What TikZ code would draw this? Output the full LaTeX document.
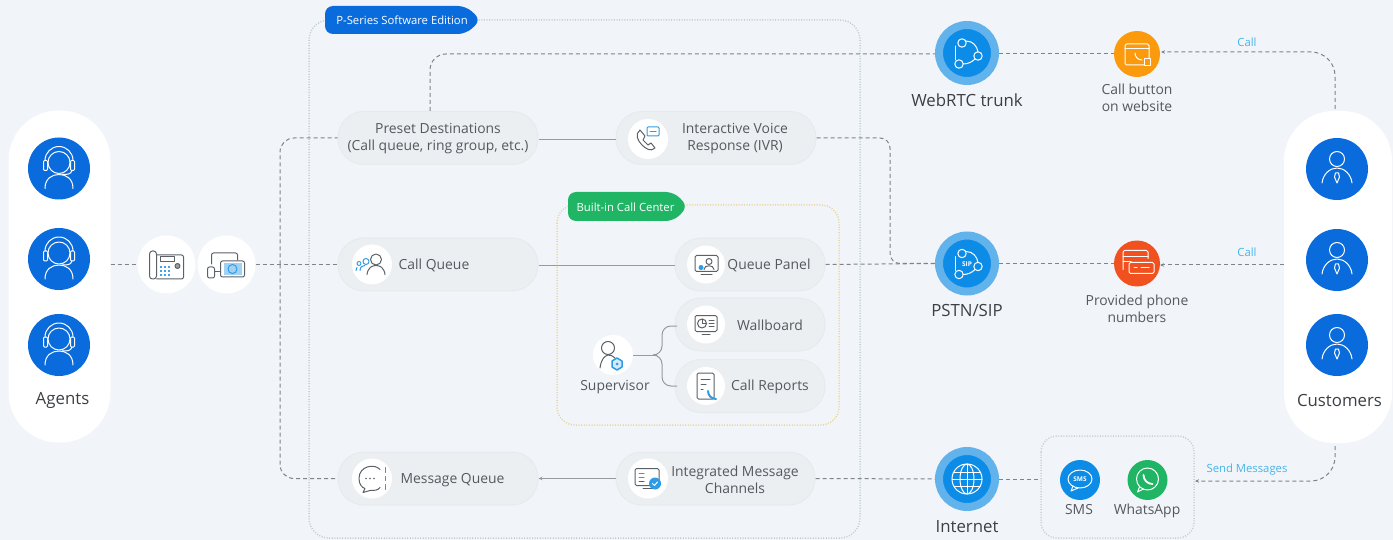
\documentclass[tikz,border=0pt]{standalone}
\usepackage{fontspec}
\setmainfont{Open Sans}
\usetikzlibrary{arrows.meta,calc}
\definecolor{bgc}{HTML}{F1F5F9}
\definecolor{bluec}{HTML}{0A6CDC}
\definecolor{midblue}{HTML}{0C8CE6}
\definecolor{ringblue}{HTML}{62B2EC}
\definecolor{pillc}{HTML}{ECEFF2}
\definecolor{pilledge}{HTML}{E7EBEE}
\definecolor{linec}{HTML}{7F8489}
\definecolor{solidcol}{HTML}{969BA0}
\definecolor{dotc}{HTML}{BFD0CA}
\definecolor{dotorange}{HTML}{EBD49A}
\definecolor{dotgray}{HTML}{C8CED3}
\definecolor{txtc}{HTML}{55595E}
\definecolor{darktxt}{HTML}{3C4046}
\definecolor{labelc}{HTML}{45B4EA}
\definecolor{greenc}{HTML}{20B565}
\definecolor{orangec}{HTML}{FB9A0C}
\definecolor{redc}{HTML}{F0511E}
\definecolor{iconc}{HTML}{5C6167}
\definecolor{iconblue}{HTML}{2E9BE6}
\tikzset{
  capsule/.style={fill=white,draw=none,minimum width=#1,minimum height=332pt,rounded corners=50pt,inner sep=0pt},
  pill/.style={fill=pillc,draw=pilledge,line width=1pt,minimum height=53pt,minimum width=#1,rounded corners=26pt,inner sep=0pt},
  whitedot/.style={circle,fill=white,draw=none,minimum size=#1,inner sep=0pt},
  person/.style={circle,fill=bluec,minimum size=62pt,inner sep=0pt},
  ringc/.style={circle,fill=midblue,draw=ringblue,line width=8pt,minimum size=56pt,inner sep=0pt},
  smallc/.style={circle,fill=#1,minimum size=46pt,inner sep=0pt},
  appc/.style={circle,fill=#1,minimum size=40pt,inner sep=0pt},
  txt/.style={text=txtc,font=\fontsize{13.9}{17}\selectfont,align=center,inner sep=0pt},
  bigtxt/.style={text=darktxt,font=\fontsize{16.8}{20}\selectfont,align=center,inner sep=0pt},
  lab/.style={text=labelc,font=\fontsize{11.3}{13}\selectfont,inner sep=0pt},
  tagtxt/.style={text=white,font=\fontsize{11.3}{13}\selectfont,inner sep=0pt},
  dashc/.style={draw=linec,line width=1pt,dash pattern=on 4pt off 3pt},
  solidc/.style={draw=solidcol,line width=1pt},
  tipc/.style={-{Stealth[length=4pt,width=3.5pt]}},
  dotframe/.style={draw=#1,line width=1.5pt,dash pattern=on 1pt off 1.6pt},
  ico/.style={draw=iconc,line width=1pt,line cap=round,line join=round},
  wico/.style={draw=white,line width=1pt,line cap=round,line join=round},
  pics/agent/.style={code={\begin{scope}[y=1pt,wico]
    \draw (0,6) circle (11);
    \draw (-14,8) arc (180:0:14);
    \draw[rounded corners=1pt] (-15.5,-2) rectangle (-11.5,8);
    \draw[rounded corners=1pt] (11.5,-2) rectangle (15.5,8);
    \draw (13,-2) .. controls (12,-6) and (8,-6) .. (3,-6);
    \draw (-14,-20) .. controls (-14,-10) and (-7,-6) .. (0,-6) .. controls (7,-6) and (14,-10) .. (14,-20);
  \end{scope}}},
  pics/cust/.style={code={\begin{scope}[y=1pt,wico]
    \draw (0,10) circle (7.5);
    \draw (-15,-14) .. controls (-14,-5) and (-7,1) .. (0,1) .. controls (7,1) and (14,-5) .. (15,-14);
    \draw (-1.5,-4) -- (1.5,-4) -- (2.5,-8) -- (0,-14) -- (-2.5,-8) -- cycle;
  \end{scope}}},
  pics/net/.style={code={\begin{scope}[y=1pt,wico]
    \draw (-5,10) circle (4.2);
    \draw (-8,-11) circle (4.2);
    \draw (11,-3) circle (4.2);
    \draw (-1,12) .. controls (6,12) and (10,7) .. (11,1);
    \draw (-12,7) -- (-12,-7);
    \draw (-4,-11) .. controls (1,-11) and (5,-9) .. (8,-6);
  \end{scope}}},
  pics/globe/.style={code={\begin{scope}[y=1pt,wico]
    \draw (0,0) circle (15);
    \draw (0,0) ellipse (7 and 15);
    \draw (0,-15) -- (0,15) (-15,0) -- (15,0) (-13,7) -- (13,7) (-13,-7) -- (13,-7);
  \end{scope}}},
  pics/webbtn/.style={code={\begin{scope}[y=1pt,wico]
    \draw[rounded corners=1.5pt] (-12,-11) rectangle (12,10);
    \draw (-12,5) -- (12,5);
    \draw (-2,1) .. controls (-2,-3) and (1,-6) .. (5,-6);
    \draw[fill=orangec] (7,-12) rectangle (13,-5);
  \end{scope}}},
  pics/numbers/.style={code={\begin{scope}[y=1pt,wico]
    \draw[rounded corners=1.5pt] (-14,-6) -- (-14,13) -- (11,13) -- (11,5);
    \draw (-14,7) -- (11,7) (-14,2) -- (-6,2);
    \draw[rounded corners=1.5pt,fill=redc] (-8,-10) rectangle (17,1);
    \draw (-3,-4.5) -- (0,-4.5) (4,-4.5) -- (12,-4.5);
  \end{scope}}},
  pics/deskphone/.style={code={\begin{scope}[y=1pt,ico]
    \draw[rounded corners=3pt] (-17,-14) rectangle (-10,14);
    \draw[rounded corners=2pt] (-10,10) -- (17,10) -- (17,-14) -- (-10,-14);
    \draw (-6,3) rectangle (8,8);
    \foreach \a in {-6,-2,2}{\foreach \b in {-10,-6,-2}{\draw[iconblue,line width=1.2pt] (\a,\b) -- (\a+1,\b);}}
    \draw[fill=iconc!60] (11,-1) circle (2.5);
  \end{scope}}},
  pics/devices/.style={code={\begin{scope}[y=1pt,ico]
    \draw[rounded corners=2pt] (-19,-2) rectangle (-12,-13);
    \draw (-12,-7) -- (-7,-7);
    \draw[rounded corners=2pt] (-15,1) -- (-15,12) -- (11,12) -- (11,5);
    \draw[rounded corners=2pt] (-6,-12) rectangle (18,4);
    \fill[iconblue!45] (-3,-10) rectangle (15,2);
    \draw[iconblue] (6,-4) circle (4.5);
  \end{scope}}},
  pics/ivr/.style={code={\begin{scope}[y=1pt,ico]
    \draw (-8,9) .. controls (-13,5) and (-11,-1) .. (-6,-6) .. controls (-2,-10) and (3,-13) .. (7,-9) -- (3,-4) -- (0,-6) -- (-5,-1) -- (-3,3) -- cycle;
    \draw[iconblue,rounded corners=1pt] (-1,3) rectangle (11,12);
    \draw[iconblue] (2,7.5) -- (8,7.5);
  \end{scope}}},
  pics/cqueue/.style={code={\begin{scope}[y=1pt,ico]
    \draw (4,5) circle (5.5);
    \draw (-5,-10) .. controls (-4,-3) and (0,-1) .. (4,-1) .. controls (8,-1) and (12,-3) .. (13,-10);
    \draw[iconblue] (-6,3) circle (3);
    \draw[iconblue] (-12,-6) .. controls (-12,-2) and (-9,-1) .. (-7,-1);
    \draw[iconblue] (-13,1) circle (2);
    \draw[iconblue] (-16,-6) -- (-15,-3);
  \end{scope}}},
  pics/panel/.style={code={\begin{scope}[y=1pt,ico]
    \draw[rounded corners=1.5pt] (-11,-7) rectangle (12,9);
    \draw (-5,-10) -- (6,-10);
    \draw (3,3) circle (3);
    \draw (-2,-5) .. controls (-2,0) and (8,0) .. (8,-5);
    \fill[iconblue] (-5,-3) circle (2.5);
  \end{scope}}},
  pics/wall/.style={code={\begin{scope}[y=1pt,ico]
    \draw[rounded corners=1.5pt] (-11,-7) rectangle (11,9);
    \draw (-4,-10) -- (4,-10);
    \draw (-4,1) circle (4.5);
    \draw (-4,5.5) -- (-4,1) -- (0.5,1);
    \draw (3,4) -- (8,4) (3,1) -- (8,1) (3,-2) -- (8,-2);
  \end{scope}}},
  pics/report/.style={code={\begin{scope}[y=1pt,ico]
    \draw[rounded corners=1.5pt] (-9,-13) rectangle (8,13);
    \draw (-5,7) -- (4,7) (-5,2) -- (0,2) (-5,-3) -- (-3,-3);
    \draw[iconblue,line width=2pt] (2,-5) .. controls (2,-10) and (6,-13) .. (10,-13);
  \end{scope}}},
  pics/superv/.style={code={\begin{scope}[y=1pt,ico]
    \draw (-5,7) circle (6.5);
    \draw (-13,-13) .. controls (-12,-5) and (-9,-1) .. (-5,0) .. controls (-2,0) and (0,-1) .. (2,-3);
    \draw[iconblue,fill=iconblue!20,line width=1.5pt] (4,-15) -- (9,-12) -- (9,-6) -- (4,-3) -- (-1,-6) -- (-1,-12) -- cycle;
    \fill[iconblue] (4,-9) circle (1.5);
  \end{scope}}},
  pics/msgq/.style={code={\begin{scope}[y=1pt,ico]
    \draw (8,9) .. controls (3,15) and (-13,13) .. (-13,0) .. controls (-13,-6) and (-10,-9) .. (-7,-10) -- (-9,-14) -- (-2,-12) .. controls (2,-12) and (6,-12) .. (8,-9);
    \foreach \a in {-6,-2,2}{\fill[iconc] (\a,0) circle (.8);}
    \draw[iconblue] (13,11) -- (13,6) (13,2) -- (13,-2) (13,-6) -- (13,-11);
  \end{scope}}},
  pics/intmsg/.style={code={\begin{scope}[y=1pt,ico]
    \draw[rounded corners=1.5pt] (-13,-7) rectangle (11,10);
    \draw (-5,-10) -- (5,-10);
    \draw[iconblue] (-9,5) -- (-4,5) (-9,1) -- (-4,1);
    \draw (-9,-3) -- (-4,-3);
    \fill[iconblue] (7,-5) circle (6);
    \draw[white] (4.5,-5) -- (6.5,-7) -- (9.5,-3.5);
  \end{scope}}},
  pics/smsic/.style={code={\begin{scope}[y=1pt,wico]
    \draw (0,1) ellipse (12 and 9);
    \draw (-7,-6) -- (-9,-11) -- (-2,-8);
  \end{scope}}},
  pics/waic/.style={code={\begin{scope}[y=1pt,wico]
    \draw (0,1) circle (11);
    \draw (-8,-7) -- (-10,-12) -- (-4,-9);
    \draw[line width=1.8pt] (-4,5) .. controls (-4,0) and (0,-4) .. (5,-4);
  \end{scope}}},
}
\begin{document}
\begin{tikzpicture}[x=1pt,y=-1pt]
\fill[bgc] (0,0) rectangle (1393,540);
\useasboundingbox (0,0) rectangle (1393,540);

% frames
\draw[dotframe=dotc,rounded corners=20pt] (309,20) rectangle (860,538);
\draw[dotframe=dotorange,rounded corners=18pt] (557,205) rectangle (839,425);
\draw[dotframe=dotgray,rounded corners=16pt] (1041,436) rectangle (1194,538);

% tags
\fill[bluec,rounded corners=8pt] (325,6) -- (466,6) -- (481,20) -- (466,34) -- (325,34) -- cycle;
\node[tagtxt] (ptag) at (402,20.500) {P-Series Software Edition};
\fill[greenc,rounded corners=8pt] (568,192) -- (674,192) -- (688,206.500) -- (674,221) -- (568,221) -- cycle;
\node[tagtxt] (btag) at (625.500,207) {Built-in Call Center};

% capsules
\node[capsule=102pt] (agents) at (59.500,276.500) {};
\node[capsule=108pt] (cust) at (1338,277) {};

% people
\node[person] (a1) at (59,168.500) {};
\node[person] (a2) at (59,259) {};
\node[person] (a3) at (59,345) {};
\pic at (59,168.500) {agent};
\pic at (59,259) {agent};
\pic at (59,345) {agent};
\node[bigtxt] (agentsT) at (62.500,400.500) {Agents};

\node[person] (c1) at (1337,169) {};
\node[person] (c2) at (1337,260) {};
\node[person] (c3) at (1337,345) {};
\pic at (1337,169) {cust};
\pic at (1337,260) {cust};
\pic at (1337,345) {cust};
\node[bigtxt] (custT) at (1339.500,400) {Customers};

% devices
\node[whitedot=58pt] (phone) at (166.500,264.500) {};
\node[whitedot=58pt] (dev) at (226.500,264.500) {};
\pic at (166.500,265) {deskphone};
\pic at (226.500,265) {devices};

% pills
\node[pill=200pt] (preset) at (438,138) {};
\node[txt] (presetT) at (438,138.500) {Preset Destinations\\(Call queue, ring group, etc.)};
\node[pill=200pt] (ivr) at (716,138) {};
\node[whitedot=40pt] (ivrI) at (648,139) {};
\pic at (648,139) {ivr};
\node[txt] (ivrT) at (735,138.500) {Interactive Voice\\Response (IVR)};
\node[pill=200pt] (cq) at (438,264.500) {};
\node[whitedot=40pt] (cqI) at (372,264.500) {};
\pic at (372,264.500) {cqueue};
\node[txt] (cqT) at (434,265) {Call Queue};
\node[pill=150pt] (qp) at (750,264.500) {};
\node[whitedot=38pt] (qpI) at (706,264.500) {};
\pic at (706,264.500) {panel};
\node[txt] (qpT) at (769,265) {Queue Panel};
\node[pill=150pt] (wb) at (750,324.500) {};
\node[whitedot=38pt] (wbI) at (706,324.500) {};
\pic at (706,324.500) {wall};
\node[txt] (wbT) at (770,325) {Wallboard};
\node[pill=150pt] (cr) at (750,386) {};
\node[whitedot=38pt] (crI) at (706,386) {};
\pic at (706,386) {report};
\node[txt] (crT) at (770,387) {Call Reports};
\node[pill=200pt] (mq) at (438,478.500) {};
\node[whitedot=40pt] (mqI) at (372,478.500) {};
\pic at (372,478.500) {msgq};
\node[txt] (mqT) at (452.500,480) {Message Queue};
\node[pill=199pt] (im) at (715.500,478.500) {};
\node[whitedot=40pt] (imI) at (648,478.500) {};
\pic at (648,478.500) {intmsg};
\node[txt] (imT) at (735,479.500) {Integrated Message\\Channels};

% supervisor
\node[whitedot=40pt] (sup) at (613,355) {};
\pic at (613,355) {superv};
\node[txt] (supT) at (615,387) {Supervisor};

% carriers
\node[ringc] (web) at (967,53) {};
\pic at (967,53) {net};
\node[bigtxt] (webT) at (967,100.500) {WebRTC trunk};
\node[ringc] (pstn) at (967,263.500) {};
\pic at (967,263.500) {net};
\node[text=white,font=\fontsize{6.5}{7}\selectfont\bfseries,inner sep=0pt] (sip) at (967,264) {SIP};
\node[bigtxt] (pstnT) at (967,310) {PSTN/SIP};
\node[ringc] (inet) at (967,479) {};
\pic at (967,479) {globe};
\node[bigtxt] (inetT) at (967,527) {Internet};

\node[smallc=orangec] (btn) at (1137,54) {};
\pic at (1137,54) {webbtn};
\node[txt] (btnT) at (1137,98) {Call button\\on website};
\node[smallc=redc] (num) at (1137,263.500) {};
\pic at (1137,263.500) {numbers};
\node[txt] (numT) at (1137,309) {Provided phone\\numbers};

\node[appc=midblue] (sms) at (1080,480) {};
\pic at (1080,480) {smsic};
\node[text=white,font=\fontsize{6.5}{7}\selectfont\bfseries,inner sep=0pt] (smsI) at (1080,479) {SMS};
\node[txt] (smsT) at (1079,509.500) {SMS};
\node[appc=greenc] (wa) at (1147.500,480) {};
\pic at (1147.500,480) {waic};
\node[txt] (waT) at (1147,511) {WhatsApp};

% free ends
\coordinate (smsbox) at (1041,479);
\coordinate (smsboxR) at (1195,481);
\coordinate (branch) at (280,264.500);

% dashed connectors
\draw[dashc] (agents.east |- phone) -- (phone.west);
\draw[dashc] (dev.east) -- (cq.west);
\draw[dashc,rounded corners=14pt] (branch) -- (branch |- preset.west) -- (preset.west);
\draw[dashc,rounded corners=14pt] (branch) -- (branch |- mq.west) -- (mq.west);
\draw[dashc,rounded corners=16pt] (430,111) -- (430,54) -- (web.west |- 0,54);
\draw[dashc] (web.east |- 0,54) -- (btn.west);
\draw[dashc,tipc,rounded corners=24pt] ($(cust.north)+(-3,-2)$) -- (1335,52) -- (1161,52);
\draw[dashc,rounded corners=10pt] (ivr.east) -- (890,138) -- (890,263.500) -- (pstn.west);
\draw[dashc] (qp.east) -- (pstn.west);
\draw[dashc] (pstn.east) -- (num.west);
\draw[dashc,tipc] (cust.west |- 0,265) -- (1160,265);
\draw[dashc] (im.east) -- (inet.west);
\draw[dashc] (inet.east) -- (smsbox);
\draw[dashc,tipc,rounded corners=24pt] ($(cust.south)+(-3,3)$) -- (1335,481) -- (smsboxR);

% solid connectors
\draw[solidc] (preset.east |- 0,140) -- (ivr.west |- 0,140);
\draw[solidc] (cq.east |- 0,266) -- (qp.west |- 0,266);
\draw[solidc,tipc] (im.west) -- (mq.east);
\draw[solidc] (sup.east) -- (657,355);
\draw[solidc,rounded corners=9pt] (657,355) -- (662,355) -- (662,326) -- (677,326);
\draw[solidc,rounded corners=9pt] (657,355) -- (662,355) -- (662,386) -- (677,386);

% labels
\node[lab] (l1) at (1247,42.500) {Call};
\node[lab] (l2) at (1247,252.500) {Call};
\node[lab] (l3) at (1247,470) {Send Messages};
\end{tikzpicture}
\end{document}
